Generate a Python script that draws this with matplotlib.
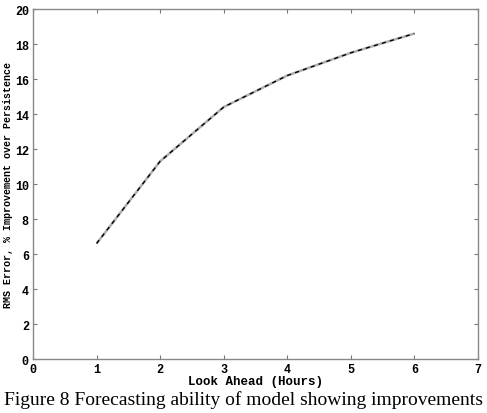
"""Figure 8: RMS error improvement over persistence vs look-ahead"""

import matplotlib
matplotlib.use('Agg')
import matplotlib.pyplot as plt

## データ
look_ahead = [1, 2, 3, 4, 5, 6]
improvement = [6.6, 11.3, 14.4, 16.2, 17.5, 18.6]

xticks = [0, 1, 2, 3, 4, 5, 6, 7]
yticks = [0, 2, 4, 6, 8, 10, 12, 14, 16, 18, 20]

## 描画
fig = plt.figure(figsize=(4.87, 4.14), dpi=100)
ax = fig.add_axes([0.0678, 0.1304, 0.9138, 0.8454])

ax.plot(look_ahead, improvement, color='#b0b0b0', lw=1.8, solid_capstyle='butt')
ax.plot(look_ahead, improvement, color='black', lw=1.0, ls=(0, (3, 3)))

ax.set_xlim(0, 7)
ax.set_ylim(0, 20)
ax.set_xticks(xticks)
ax.set_yticks(yticks)
mono = dict(family='Liberation Mono', weight='bold', size=8.5)
ax.set_xticklabels([str(t) for t in xticks], fontdict=mono)
ax.set_yticklabels([str(t) for t in yticks], fontdict=mono)
ax.tick_params(direction='in', top=True, right=True, length=3, width=0.8,
               color='#777777', pad=3)
for s in ax.spines.values():
    s.set_color('#888888')
    s.set_linewidth(1.0)

ax.set_xlabel('Look Ahead (Hours)', family='Liberation Mono', weight='bold',
              size=9, labelpad=0)
ax.set_ylabel('RMS Error, % Improvement over Persistence', family='Liberation Mono',
              weight='bold', size=7.2, labelpad=1)

fig.text(0.5, 0.033, 'Figure 8 Forecasting ability of model showing improvements',
         family='Liberation Serif', size=14.0, ha='center', va='center')

fig.savefig('out.png', dpi=100)
